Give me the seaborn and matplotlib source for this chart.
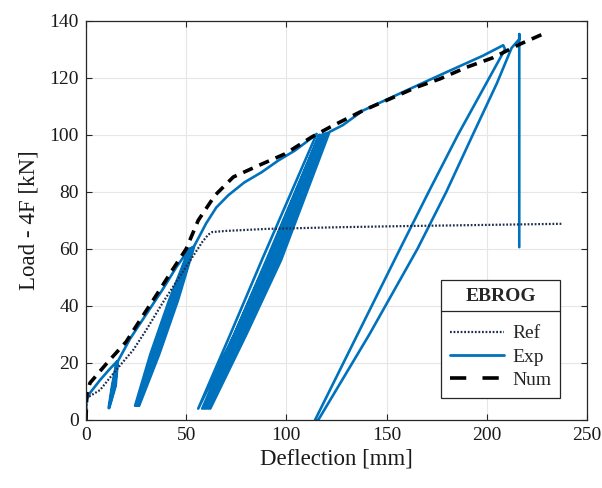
import matplotlib
matplotlib.use("Agg")
import matplotlib.pyplot as plt
import numpy as np
import pandas as pd
import seaborn as sns
from matplotlib.lines import Line2D

# ---------------- data ----------------
# Reference (dotted)
ref_x = [0, 0.3, 7, 15, 23.5, 30, 38, 46.5, 53, 58, 61, 63, 70, 90, 126.7, 160, 200, 238]
ref_y = [0, 7.7, 10.5, 17.5, 24.5, 31.5, 40.8, 50, 57, 62.4, 65, 65.9, 66.3, 67, 67.6, 68.0, 68.4, 68.8]

# Numerical (dashed)
num_x = [0, 0.4, 2, 11, 20, 27.5, 35.6, 43, 50, 56, 64.4, 73.5, 86, 99.3, 112.6,
         121.8, 138.2, 151.7, 165, 176.6, 190, 203, 216.6, 229.9]
num_y = [0, 9, 13, 20.4, 27.4, 35.6, 44.3, 52.5, 60, 70, 78.8, 85.2, 89.2, 93.3, 99.2,
         102.7, 108.5, 112.6, 116.7, 119.6, 123.7, 127, 131.8, 135.9]

# Experimental (solid) - path split into segments
exp_x_start = [0, 0.2, 2, 7, 12, 15.3]
exp_y_start = [0, 7, 9.5, 14, 18, 20.4]

exp_x_cyc1 = [13.0, 11.3, 14.5, 15.6, 13.3, 11.6, 14.8, 15.9]
exp_y_cyc1 = [12, 4.2, 12, 20.5, 12, 4.2, 12, 20.6]

exp_x_env2 = [22, 30, 38, 45, 51.5]
exp_y_env2 = [28.5, 37, 45.5, 53.5, 60]

exp_x_cyc2 = [41.5, 32.1, 24.5, 34.5, 43.9, 52.0,
              42.0, 32.6, 25.0, 35.0, 44.4, 52.5,
              42.5, 33.1, 25.5, 35.5, 44.9, 53.0,
              43.0, 33.6, 26.0, 36.0, 45.4, 53.5,
              43.5, 34.1, 26.5, 36.5, 45.9, 54.0]
exp_y_cyc2 = [42, 23, 5, 23, 42, 60.1,
              42, 23, 5, 23, 42, 60.3,
              42, 23, 5, 23, 42, 60.5,
              42, 23, 5, 23, 42, 60.7,
              42, 23, 5, 23, 42, 61.0]

exp_x_env3 = [57, 60, 65, 71, 79, 87.7, 96, 104.3, 110, 115.1]
exp_y_env3 = [65, 69, 74.5, 78.8, 83.3, 86.9, 91, 94.5, 97.5, 100.3]

exp_x_cyc3 = [87.7, 72.0, 56.0, 74.0, 90.5, 116.5,
              90.0, 74.0, 58.0, 76.0, 92.5, 117.5,
              91.0, 75.0, 59.0, 77.0, 93.8, 118.5,
              92.0, 76.0, 60.0, 78.0, 95.0, 119.5,
              93.0, 77.0, 61.0, 79.0, 96.2, 120.5,
              94.0, 78.0, 62.0, 80.0, 97.3, 121.5]
exp_y_cyc3 = [56, 30, 4, 30, 56, 100.0,
              56, 30, 4, 30, 56, 100.0,
              56, 30, 4, 30, 56, 100.3,
              56, 30, 4, 30, 56, 100.5,
              56, 30, 4, 30, 56, 100.7,
              56, 30, 4, 30, 56, 101.0]

exp_x_env4 = [128.2, 138.2, 158.2, 180, 198, 208.2, 209.1]
exp_y_env4 = [103.4, 108.5, 115, 122, 127.7, 131.4, 130]

exp_x_end = [185.6, 171, 156.7, 135.5, 114.3, 115.9, 141.4, 165.4, 179.8, 193, 205, 212.4,
             216.2, 216.2, 216.2]
exp_y_end = [100, 80, 60, 30, 0, 0, 30, 60, 80, 100, 118, 130.5,
             133.5, 135.3, 60.6]

exp_x = exp_x_start + exp_x_cyc1 + exp_x_env2 + exp_x_cyc2 + exp_x_env3 + exp_x_cyc3 + exp_x_env4 + exp_x_end
exp_y = exp_y_start + exp_y_cyc1 + exp_y_env2 + exp_y_cyc2 + exp_y_env3 + exp_y_cyc3 + exp_y_env4 + exp_y_end

legend_title = "EBROG"
labels = ["Ref", "Exp", "Num"]
x_ticks = [0, 50, 100, 150, 200, 250]
y_ticks = [0, 20, 40, 60, 80, 100, 120, 140]

# ---------------- styling ----------------
sns.set_style("ticks")
plt.rcParams["font.family"] = ["Liberation Serif", "DejaVu Serif"]

W, H = 602, 488
fig = plt.figure(figsize=(W / 100, H / 100), dpi=100)
ax = fig.add_axes([86 / W, 68 / H, 501 / W, 399.3 / H])

df_ref = pd.DataFrame({"x": ref_x, "y": ref_y})
df_exp = pd.DataFrame({"x": exp_x, "y": exp_y})
df_num = pd.DataFrame({"x": num_x, "y": num_y})

exp_col = "#0072BD"
ref_col = "#1e2d4d"

sns.lineplot(data=df_exp, x="x", y="y", sort=False, estimator=None, ax=ax,
             color=exp_col, linewidth=1.9, solid_joinstyle="round")
sns.lineplot(data=df_ref, x="x", y="y", sort=False, estimator=None, ax=ax,
             color=ref_col, linewidth=1.6, linestyle=(0, (0.8, 0.8)))
sns.lineplot(data=df_num, x="x", y="y", sort=False, estimator=None, ax=ax,
             color="black", linewidth=2.6, linestyle=(0, (2.9, 2.0)))

ax.set_xlim(0, 250)
ax.set_ylim(0, 140)
ax.set_xticks(x_ticks)
ax.set_yticks(y_ticks)
ax.grid(True, color="#e6e6e6", linewidth=0.8)
ax.set_axisbelow(True)
for s in ax.spines.values():
    s.set_visible(True)
    s.set_color("#262626")
    s.set_linewidth(0.9)
ax.tick_params(direction="in", length=4, width=0.8, top=True, right=True,
               labelsize=14, colors="#262626", pad=5)
ax.tick_params(axis="both", labelcolor="#1a1a1a")
ax.set_xlabel("Deflection [mm]", fontsize=16.5, color="#1a1a1a", labelpad=3)
ax.set_ylabel("Load - 4F [kN]", fontsize=16.5, color="#1a1a1a", labelpad=7)

handles = [
    Line2D([], [], color=ref_col, linewidth=1.6, linestyle=(0, (0.8, 0.8))),
    Line2D([], [], color=exp_col, linewidth=2.0),
    Line2D([], [], color="black", linewidth=2.6, linestyle=(0, (4.5, 4.5))),
]
leg = ax.legend(handles, labels, title=legend_title, loc="lower right",
                bbox_to_anchor=(0.946, 0.055), borderaxespad=0, fontsize=14,
                title_fontproperties={"weight": "bold", "size": 14},
                frameon=True, fancybox=False, framealpha=1, edgecolor="#262626",
                handlelength=2.8, handletextpad=0.4, labelspacing=0.3,
                borderpad=0.45)
leg.get_frame().set_linewidth(0.9)
leg._legend_box.sep = 14

fig.canvas.draw()
fb = leg.get_frame().get_window_extent()
tb = leg.get_title().get_window_extent()
ysep = tb.y0 - 6
fig.add_artist(Line2D([fb.x0, fb.x1], [ysep, ysep], transform=None,
                      color="#262626", linewidth=0.9))

fig.savefig("out.png", dpi=100)
